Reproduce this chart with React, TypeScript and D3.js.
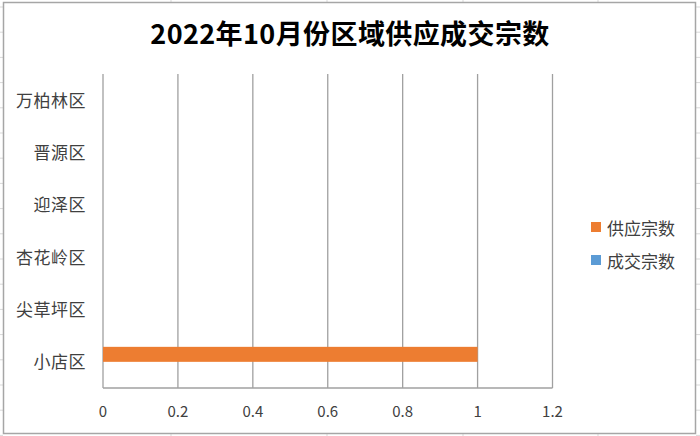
import React from "react";
import * as d3 from "d3";

const title = "2022年10月份区域供应成交宗数";
const categories = ["小店区", "尖草坪区", "杏花岭区", "迎泽区", "晋源区", "万柏林区"];
const seriesNames = ["供应宗数", "成交宗数"];
const supplyValues = [1, 0, 0, 0, 0, 0];
const dealValues = [0, 0, 0, 0, 0, 0];
const xTicks = [0, 0.2, 0.4, 0.6, 0.8, 1, 1.2];
const seriesColors = ["#ED7D31", "#5B9BD5"];

const W = 700;
const H = 436;
const cjk = "'Noto Sans CJK SC', 'Noto Sans', sans-serif";

export default function App() {
  const x = d3.scaleLinear().domain([0, 1.2]).range([103, 552.5]);
  const y = d3
    .scaleBand<string>()
    .domain([...categories].reverse())
    .range([74, 388])
    .paddingInner(0.427)
    .paddingOuter(0.2135);
  const sub = d3.scaleBand<string>().domain(seriesNames).range([0, y.bandwidth()]);
  const values = [supplyValues, dealValues];

  const rowLines = d3.range(7, 436, 25.2);
  const colLines = [171, 327, 463, 598];

  return (
    <svg
      width={W}
      height={H}
      style={{ position: "absolute", left: 0, top: 0, background: "#fff" }}
    >
      {rowLines.map((ry, i) => (
        <g key={"r" + i}>
          <line x1={0} x2={3} y1={ry} y2={ry} stroke="#d9d9d9" />
          <line x1={696} x2={700} y1={ry} y2={ry} stroke="#d9d9d9" />
        </g>
      ))}
      {colLines.map((cx, i) => (
        <g key={"c" + i}>
          <line x1={cx} x2={cx} y1={0} y2={2} stroke="#d9d9d9" />
          <line x1={cx} x2={cx} y1={434} y2={436} stroke="#d9d9d9" />
        </g>
      ))}
      <rect x={3.5} y={2.5} width={692} height={431} fill="#fff" stroke="#a6a6a6" strokeWidth={1.5} />

      <text
        x={350}
        y={44}
        textAnchor="middle"
        fontFamily={cjk}
        fontWeight="bold"
        fontSize={27}
        letterSpacing={0.4}
        fill="#000"
      >
        {title}
      </text>

      {xTicks.map((t) => (
        <line
          key={"g" + t}
          x1={x(t)}
          x2={x(t)}
          y1={74}
          y2={388}
          stroke="#a0a0a0"
          strokeWidth={1.3}
        />
      ))}
      <line x1={x(0)} x2={x(1.2)} y1={388} y2={388} stroke="#a0a0a0" strokeWidth={1.3} />

      {seriesNames.map((s, si) =>
        categories.map((c, ci) => {
          const v = values[si][ci];
          if (!v) return null;
          return (
            <rect
              key={s + c}
              x={x(0)}
              y={(y(c) as number) + (sub(s) as number)}
              width={x(v) - x(0)}
              height={sub.bandwidth()}
              fill={seriesColors[si]}
            />
          );
        })
      )}

      {categories.map((c) => (
        <text
          key={"l" + c}
          x={86}
          y={(y(c) as number) + y.bandwidth() / 2 - 1}
          textAnchor="end"
          dominantBaseline="central"
          fontFamily={cjk}
          fontSize={17}
          letterSpacing={0.5}
          fill="#404040"
        >
          {c}
        </text>
      ))}

      {xTicks.map((t) => (
        <text
          key={"t" + t}
          x={x(t)}
          y={410}
          textAnchor="middle"
          dominantBaseline="central"
          fontFamily={cjk}
          fontSize={15}
          fill="#404040"
        >
          {String(t)}
        </text>
      ))}

      {seriesNames.map((s, i) => (
        <g key={"lg" + s} transform={`translate(591, ${222 + i * 33})`}>
          <rect x={0} y={0} width={10} height={10} fill={seriesColors[i]} />
          <text
            x={16}
            y={5}
            dominantBaseline="central"
            fontFamily={cjk}
            fontSize={17}
            fill="#404040"
          >
            {s}
          </text>
        </g>
      ))}
    </svg>
  );
}
